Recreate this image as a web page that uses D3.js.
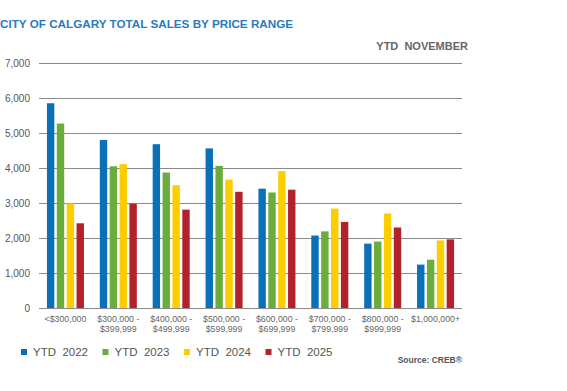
<!DOCTYPE html>
<html>
<head>
<meta charset="utf-8">
<script src="https://cdn.jsdelivr.net/npm/d3@7"></script>
<style>
  body { margin: 0; background: #fff; }
  text { font-family: "Liberation Sans", Arial, sans-serif; }
</style>
</head>
<body>
<div id="chart"></div>
<script>
// price range categories (two-line labels)
const categories = ['<$300,000', '$300,000 -|$399,999', '$400,000 -|$499,999', '$500,000 -|$599,999',
  '$600,000 -|$699,999', '$700,000 -|$799,999', '$800,000 -|$999,999', '$1,000,000+'];
const seriesNames = ['YTD  2022', 'YTD  2023', 'YTD  2024', 'YTD  2025'];
const ytd2022 = [5850, 4800, 4680, 4560, 3410, 2070, 1840, 1240];
const ytd2023 = [5270, 4050, 3870, 4060, 3300, 2190, 1900, 1380];
const ytd2024 = [2990, 4110, 3510, 3670, 3910, 2840, 2700, 1930];
const ytd2025 = [2420, 2980, 2810, 3320, 3380, 2460, 2300, 1960];
const yTicks = [0, 1000, 2000, 3000, 4000, 5000, 6000, 7000];

const colors = ['#0a71b9', '#6aad3d', '#fdcd00', '#b3222b'];
const series = [ytd2022, ytd2023, ytd2024, ytd2025];

const width = 567, height = 391;
const svg = d3.select('#chart').append('svg')
  .attr('width', width).attr('height', height);

const x = d3.scaleBand().domain(d3.range(categories.length))
  .range([39, 462]).paddingInner(0.3).paddingOuter(0.15);
const xSub = d3.scaleBand().domain(d3.range(series.length))
  .range([0, x.bandwidth()]).paddingInner(0.25).paddingOuter(0);
const y = d3.scaleLinear().domain([0, 7000]).range([308, 63]);

// title
svg.append('text').attr('x', 0).attr('y', 28)
  .attr('fill', '#2a7bb9').attr('font-size', 11.7).attr('font-weight', 'bold')
  .text('CITY OF CALGARY TOTAL SALES BY PRICE RANGE');

svg.append('text').attr('x', 468).attr('y', 50).attr('text-anchor', 'end')
  .attr('fill', '#666').attr('font-size', 11).attr('font-weight', 'bold')
  .style('white-space', 'pre')
  .text('YTD  NOVEMBER');

// gridlines
svg.append('g').selectAll('line').data(yTicks).join('line')
  .attr('x1', 39).attr('x2', 462)
  .attr('y1', d => y(d) + 0.5).attr('y2', d => y(d) + 0.5)
  .attr('stroke', '#8a8a8a').attr('stroke-width', 1);

svg.append('g').selectAll('text').data(yTicks).join('text')
  .attr('x', 30).attr('y', d => y(d) + 3.5).attr('text-anchor', 'end')
  .attr('fill', '#555').attr('font-size', 10)
  .text(d => d3.format(',')(d));

// bars
const groups = svg.append('g').selectAll('g').data(categories).join('g')
  .attr('transform', (d, i) => `translate(${x(i)},0)`);
groups.selectAll('rect').data((d, i) => series.map((s, k) => ({ k, v: s[i] }))).join('rect')
  .attr('x', d => xSub(d.k)).attr('width', xSub.bandwidth())
  .attr('y', d => y(d.v)).attr('height', d => y(0) - y(d.v))
  .attr('fill', d => colors[d.k]);

// x labels
const xl = svg.append('g').selectAll('text').data(categories).join('text')
  .attr('text-anchor', 'middle').attr('fill', '#666').attr('font-size', 8.8)
  .attr('transform', (d, i) => `translate(${x(i) + x.bandwidth() / 2},322)`);
xl.selectAll('tspan').data(d => d.split('|')).join('tspan')
  .attr('x', 0).attr('dy', (d, i) => i ? 10 : 0).text(d => d);

// legend
const leg = svg.append('g').selectAll('g').data(seriesNames).join('g')
  .attr('transform', (d, i) => `translate(${21 + i * 81.5},352)`);
leg.append('rect').attr('x', 0).attr('y', -3).attr('width', 6).attr('height', 6)
  .attr('fill', (d, i) => colors[i]);
leg.append('text').attr('x', 12).attr('y', 4).attr('fill', '#555')
  .attr('font-size', 11.5).style('white-space', 'pre').text(d => d);

svg.append('text').attr('x', 462).attr('y', 363).attr('text-anchor', 'end')
  .attr('fill', '#555').attr('font-size', 8.5).attr('font-weight', 'bold')
  .text('Source: CREB®');
</script>
</body>
</html>
